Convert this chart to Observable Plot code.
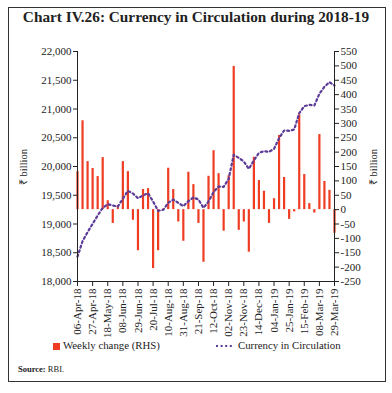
<!DOCTYPE html>
<html>
<head>
<meta charset="utf-8">
<script src="https://cdn.jsdelivr.net/npm/d3@7"></script>
<script src="https://cdn.jsdelivr.net/npm/@observablehq/plot@0.6"></script>
<style>
  body { margin:0; width:392px; height:393px; background:#fff; position:relative; overflow:hidden; font-family:"Liberation Serif", serif; color:#222; }
  #frame { position:absolute; left:8px; top:7px; width:376px; height:373px; border:1px solid #333; }
  #title { position:absolute; left:0; top:8px; width:392px; text-align:center; font-weight:bold; font-size:15.3px; color:#222; }
  #chart { position:absolute; left:0; top:40px; }
  .ylab { position:absolute; font-size:10.5px; white-space:nowrap; transform:translate(-50%,-50%) rotate(-90deg); }
  #legend { position:absolute; left:0; top:338px; width:392px; height:18px; font-size:10.8px; }
  #source { position:absolute; left:18px; top:364px; font-size:8.5px; }
</style>
</head>
<body>
<div id="frame"></div>
<div id="title">Chart IV.26: Currency in Circulation during 2018-19</div>
<div id="chart"></div>
<div class="ylab" style="left:23px; top:167px;">₹ billion</div>
<div class="ylab" style="left:373px; top:167px;">₹ billion</div>
<div id="legend">
  <span style="position:absolute; left:53px; top:5px; width:7px; height:7px; background:#ee3d23;"></span>
  <span style="position:absolute; left:63px; top:1px;">Weekly change (RHS)</span>
  <svg style="position:absolute; left:215px; top:6px;" width="20" height="4"><line x1="1" y1="2" x2="19" y2="2" stroke="#5c3c97" stroke-width="2.2" stroke-dasharray="2,2.6"/></svg>
  <span style="position:absolute; left:238px; top:1px;">Currency in Circulation</span>
</div>
<div id="source"><b>Source:</b> RBI.</div>
<script>
const weeks = ["2018-04-06","2018-04-13","2018-04-20","2018-04-27","2018-05-04","2018-05-11","2018-05-18","2018-05-25",
  "2018-06-01","2018-06-08","2018-06-15","2018-06-22","2018-06-29","2018-07-06","2018-07-13","2018-07-20","2018-07-27",
  "2018-08-03","2018-08-10","2018-08-17","2018-08-24","2018-08-31","2018-09-07","2018-09-14","2018-09-21","2018-09-28",
  "2018-10-05","2018-10-12","2018-10-19","2018-10-26","2018-11-02","2018-11-09","2018-11-16","2018-11-23","2018-11-30",
  "2018-12-07","2018-12-14","2018-12-21","2018-12-28","2019-01-04","2019-01-11","2019-01-18","2019-01-25","2019-02-01",
  "2019-02-08","2019-02-15","2019-02-22","2019-03-01","2019-03-08","2019-03-15","2019-03-22","2019-03-29"];
const weeklyChange = [132,309,167,143,115,181,31,-48,14,167,132,-37,-143,70,73,-205,-143,2,144,70,-43,-110,130,87,-48,
  -183,116,205,125,-75,118,498,-72,-43,-148,182,101,64,-48,38,258,112,-34,-8,330,122,21,-12,261,98,67,-82];
const currency = [18430,18701,18858,19003,19148,19281,19345,19322,19304,19438,19577,19530,19449,19496,19536,19390,19229,
  19246,19368,19426,19368,19310,19397,19461,19426,19281,19391,19554,19652,19646,19786,20203,20151,20087,19959,20104,
  20238,20267,20255,20307,20493,20626,20620,20643,20928,21049,21072,21061,21264,21386,21467,21409];
const xTickLabels = ["06-Apr-18","27-Apr-18","18-May-18","08-Jun-18","29-Jun-18","20-Jul-18","10-Aug-18","31-Aug-18",
  "21-Sep-18","12-Oct-18","02-Nov-18","23-Nov-18","14-Dec-18","04-Jan-19","25-Jan-19","15-Feb-19","08-Mar-19","29-Mar-19"];
const leftTicks = [18000,18500,19000,19500,20000,20500,21000,21500,22000];
const rightTicks = [-250,-200,-150,-100,-50,0,50,100,150,200,250,300,350,400,450,500,550];

const parse = d3.utcParse("%Y-%m-%d");
const parseTick = d3.utcParse("%d-%b-%y");
const data = weeks.map((w, i) => ({date: parse(w), change: weeklyChange[i], cic: currency[i]}));
const first = data[0].date, last = data[data.length - 1].date;
// right axis (-250..550) mapped onto left axis (18,000..22,000)
const toLeft = v => 18000 + (v + 250) * 5;
const fromLeft = y => Math.round((y - 18000) / 5 - 250);
const zero = toLeft(0);

const chart = Plot.plot({
  width: 392, height: 300,
  marginTop: 11, marginBottom: 59, marginLeft: 77, marginRight: 58,
  style: {fontFamily: "Liberation Serif", fontSize: "11px", color: "#222", background: "transparent"},
  x: {type: "utc", domain: [first, last]},
  y: {domain: [18000, 22000]},
  marks: [
    Plot.ruleX(data, {x: "date", y1: () => zero, y2: d => toLeft(d.change), stroke: "#ee3d23", strokeWidth: 2.2}),
    Plot.line(data, {x: "date", y: "cic", stroke: "#5c3c97", strokeWidth: 2.2, strokeDasharray: "2,2.8"}),
    Plot.ruleX([first, last], {stroke: "#222", strokeWidth: 1}),
    Plot.ruleY([18000], {stroke: "#222", strokeWidth: 1}),
    Plot.axisY({ticks: leftTicks, tickFormat: d3.format(","), tickSize: 4, tickPadding: 2, label: null}),
    Plot.axisY({anchor: "right", ticks: rightTicks.map(toLeft), tickFormat: d => String(fromLeft(d)), tickSize: 4, tickPadding: 2, label: null}),
    Plot.axisX({ticks: xTickLabels.map(parseTick), tickFormat: d3.utcFormat("%d-%b-%y"), tickRotate: -90, tickSize: 5, tickPadding: 2, label: null})
  ]
});
document.getElementById("chart").appendChild(chart);
</script>
</body>
</html>
